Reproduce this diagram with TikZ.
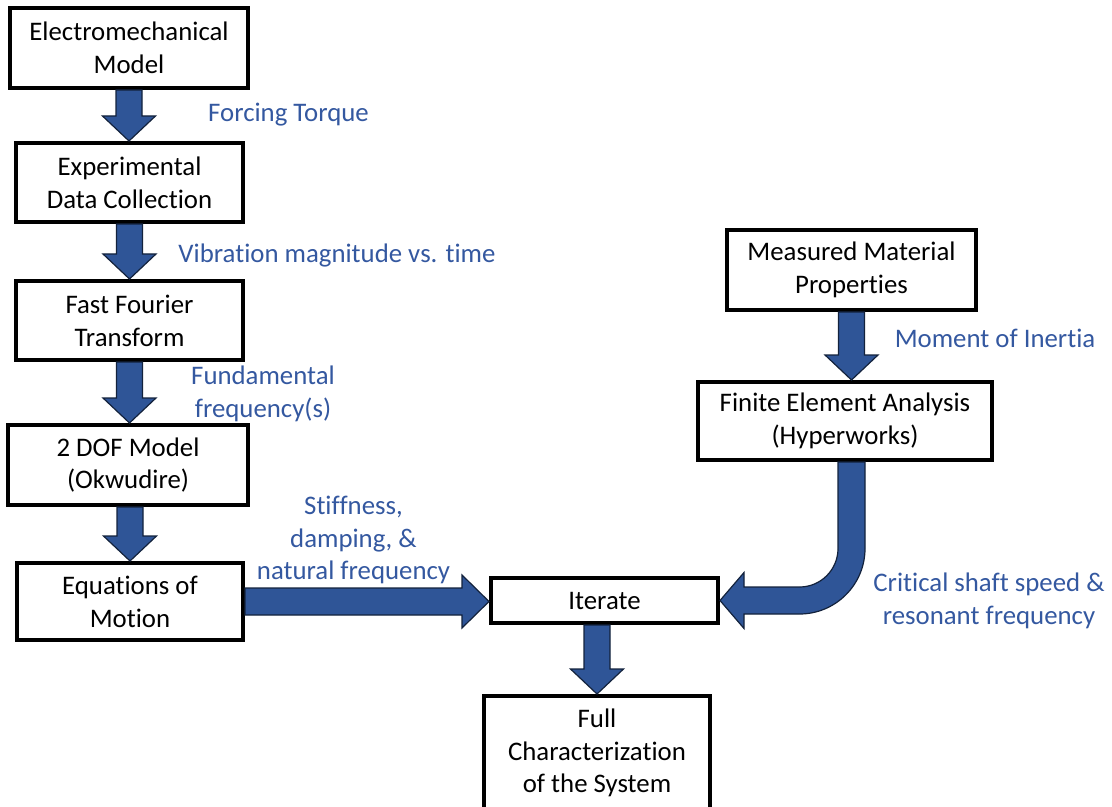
\documentclass[tikz,border=0pt]{standalone}
\usepackage{fontspec}
\setmainfont{Carlito}[Ligatures=NoCommon]
\usetikzlibrary{calc}
\definecolor{flowblue}{RGB}{47,85,151}
\definecolor{labelblue}{RGB}{52,88,160}
\newcommand{\flowfont}{\fontsize{13.4pt}{16.4pt}\selectfont}
\tikzset{
  step box/.style={draw=black, line width=2pt, fill=white, inner sep=0pt, align=center, font=\flowfont},
  flow label/.style={text=labelblue, inner sep=0pt, align=center, font=\flowfont},
  flow arrow/.style={fill=flowblue, draw=black!60!flowblue, line width=0.6pt, line join=miter},
}
\newcommand{\drawFlowDown}[2]{
  \draw[flow arrow] let \p1=(#1), \p2=(#2) in
    (\x1-6.5pt,\y1) -- (\x1+6.5pt,\y1) -- (\x1+6.5pt,\y2+12.5pt) -- (\x1+13.25pt,\y2+12.5pt)
    -- (\x1,\y2) -- (\x1-13.25pt,\y2+12.5pt) -- (\x1-6.5pt,\y2+12.5pt) -- cycle;
}
\newcommand{\drawFlowRight}[2]{
  \draw[flow arrow] let \p1=(#1), \p2=(#2) in
    (\x1,\y1+6.75pt) -- (\x2-13.5pt,\y1+6.75pt) -- (\x2-13.5pt,\y1+13.25pt) -- (\x2,\y1)
    -- (\x2-13.5pt,\y1-13.25pt) -- (\x2-13.5pt,\y1-6.75pt) -- (\x1,\y1-6.75pt) -- cycle;
}
\newcommand{\drawFlowBend}[2]{
  \draw[flow arrow] let \p1=(#1), \p2=(#2) in
    (\x1-6.75pt,\y1) -- (\x1-6.75pt,\y2+26pt) arc[start angle=0, end angle=-90, radius=19.25pt]
    -- (\x2+12pt,\y2+6.75pt) -- (\x2+12pt,\y2+14pt) -- (\x2,\y2) -- (\x2+12pt,\y2-14pt)
    -- (\x2+12pt,\y2-6.75pt) -- (\x1-26pt,\y2-6.75pt) arc[start angle=-90, end angle=0, radius=32.75pt]
    -- (\x1+6.75pt,\y1) -- cycle;
}

\begin{document}
\begin{tikzpicture}[x=0.5pt, y=0.5pt]
  \useasboundingbox (0,0) rectangle (1112,-807);
  \node[step box, minimum width=119pt, minimum height=40pt] (emm) at (129,-48) {Electromechanical\\Model};
  \node[step box, minimum width=113.5pt, minimum height=39.5pt] (exp) at (129.5,-182.5) {Experimental\\Data Collection};
  \node[step box, minimum width=113.5pt, minimum height=39.5pt] (fft) at (129.5,-320.5) {Fast Fourier\\Transform};
  \node[step box, minimum width=120pt, minimum height=40pt] (dof) at (128,-465) {2 DOF Model\\(Okwudire)};
  \node[step box, minimum width=113pt, minimum height=38.5pt] (eom) at (130,-601.5) {Equations of\\Motion};
  \node[step box, minimum width=124.5pt, minimum height=40pt] (mmp) at (851.5,-270) {Measured Material\\Properties};
  \node[step box, minimum width=147pt, minimum height=39pt] (fea) at (845,-421) {Finite Element Analysis\\(Hyperworks)};
  \node[step box, minimum width=113.5pt, minimum height=22.5pt] (itr) at (604.5,-600.5) {Iterate};
  \node[step box, minimum width=113pt, minimum height=57pt] (full) at (597,-753) {Full\\Characterization\\of the System};

  \drawFlowDown{emm.south}{exp.north}
  \drawFlowDown{exp.south}{fft.north}
  \drawFlowDown{fft.south}{dof.north}
  \drawFlowDown{dof.south -| eom.north}{eom.north}
  \drawFlowDown{mmp.south}{mmp.south |- fea.north}
  \drawFlowDown{itr.south -| full.north}{full.north}
  \drawFlowRight{eom.east}{itr.west}
  \drawFlowBend{mmp.south |- fea.south}{itr.east}

  \node[flow label] (torque) at (288.5,-115) {Forcing Torque};
  \node[flow label] (vibration) at (337,-255) {Vibration magnitude vs. time};
  \node[flow label] (fundamental) at (263,-394) {Fundamental\\frequency(s)};
  \node[flow label] (stiffness) at (353.5,-540) {Stiffness,\\damping, \&\\natural frequency};
  \node[flow label] (inertia) at (995,-338) {Moment of Inertia};
  \node[flow label] (critical) at (989,-601) {Critical shaft speed \&\\resonant frequency};
\end{tikzpicture}
\end{document}
